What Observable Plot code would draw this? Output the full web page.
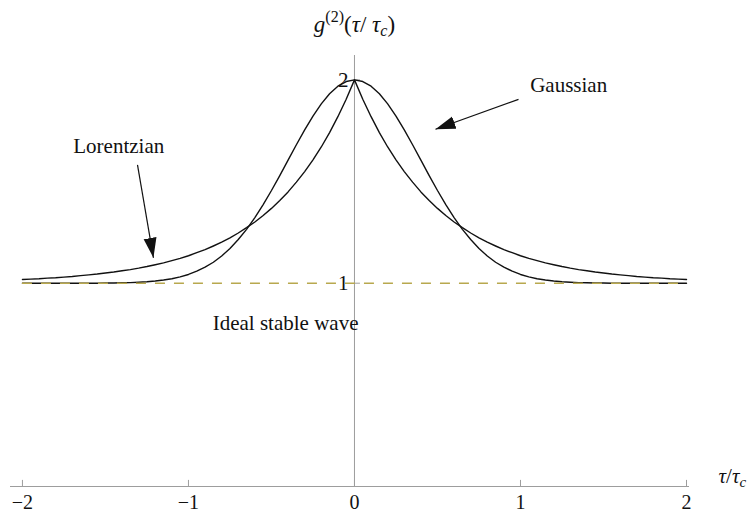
<!DOCTYPE html>
<html>
<head>
<meta charset="utf-8">
<script src="https://cdn.jsdelivr.net/npm/d3@7"></script>
<script src="https://cdn.jsdelivr.net/npm/@observablehq/plot@0.6"></script>
<style>
  body { margin: 0; background: #fff; }
  #chart { width: 756px; height: 514px; }
</style>
</head>
<body>
<div id="chart"></div>
<script>
// Delay in units of the coherence time, tau / tau_c
const tau = [
  -2.00, -1.95, -1.90, -1.85, -1.80, -1.75, -1.70, -1.65, -1.60, -1.55,
  -1.50, -1.45, -1.40, -1.35, -1.30, -1.25, -1.20, -1.15, -1.10, -1.05,
  -1.00, -0.95, -0.90, -0.85, -0.80, -0.75, -0.70, -0.65, -0.60, -0.55,
  -0.50, -0.45, -0.40, -0.35, -0.30, -0.25, -0.20, -0.15, -0.10, -0.05,
   0.00,
   0.05,  0.10,  0.15,  0.20,  0.25,  0.30,  0.35,  0.40,  0.45,  0.50,
   0.55,  0.60,  0.65,  0.70,  0.75,  0.80,  0.85,  0.90,  0.95,  1.00,
   1.05,  1.10,  1.15,  1.20,  1.25,  1.30,  1.35,  1.40,  1.45,  1.50,
   1.55,  1.60,  1.65,  1.70,  1.75,  1.80,  1.85,  1.90,  1.95,  2.00
];

// Second-order coherence g2 of Lorentzian (collision-broadened) light
const lorentzian = [
  1.018, 1.020, 1.022, 1.025, 1.027, 1.030, 1.033, 1.037, 1.041, 1.045,
  1.050, 1.055, 1.061, 1.067, 1.074, 1.082, 1.091, 1.100, 1.111, 1.122,
  1.135, 1.150, 1.165, 1.183, 1.202, 1.223, 1.247, 1.273, 1.301, 1.333,
  1.368, 1.407, 1.449, 1.497, 1.549, 1.607, 1.670, 1.741, 1.819, 1.905,
  2.000,
  1.905, 1.819, 1.741, 1.670, 1.607, 1.549, 1.497, 1.449, 1.407, 1.368,
  1.333, 1.301, 1.273, 1.247, 1.223, 1.202, 1.183, 1.165, 1.150, 1.135,
  1.122, 1.111, 1.100, 1.091, 1.082, 1.074, 1.067, 1.061, 1.055, 1.050,
  1.045, 1.041, 1.037, 1.033, 1.030, 1.027, 1.025, 1.022, 1.020, 1.018
];

// Second-order coherence g2 of Gaussian (Doppler-broadened) light
const gaussian = [
  1.000, 1.000, 1.000, 1.000, 1.000, 1.000, 1.000, 1.000, 1.000, 1.000,
  1.001, 1.001, 1.002, 1.003, 1.005, 1.007, 1.011, 1.016, 1.022, 1.031,
  1.043, 1.059, 1.079, 1.103, 1.134, 1.171, 1.215, 1.265, 1.323, 1.387,
  1.456, 1.529, 1.605, 1.681, 1.754, 1.822, 1.882, 1.932, 1.969, 1.992,
  2.000,
  1.992, 1.969, 1.932, 1.882, 1.822, 1.754, 1.681, 1.605, 1.529, 1.456,
  1.387, 1.323, 1.265, 1.215, 1.171, 1.134, 1.103, 1.079, 1.059, 1.043,
  1.031, 1.022, 1.016, 1.011, 1.007, 1.005, 1.003, 1.002, 1.001, 1.001,
  1.000, 1.000, 1.000, 1.000, 1.000, 1.000, 1.000, 1.000, 1.000, 1.000
];

// Ideal stable wave: g2 = 1 at every delay
const idealLevel = 1;

const xTicks = [-2, -1, 0, 1, 2];
const yTicks = [1, 2];

const curves = tau.map((t, i) => ({t, lorentzian: lorentzian[i], gaussian: gaussian[i]}));

// Callouts, anchored in data coordinates
const callouts = [
  {label: "Lorentzian", x: -1.42, y: 1.672},
  {label: "Gaussian", x: 1.29, y: 1.976},
  {label: "Ideal stable wave", x: -0.415, y: 0.805}
];
const pointers = [
  {x1: -1.307, y1: 1.582, x2: -1.211, y2: 1.125},
  {x1: 0.988, y1: 1.904, x2: 0.488, y2: 1.757}
];

const serif = "'Liberation Serif', 'Times New Roman', serif";
const axisGray = "#9d9d9d";
const ink = "#111";
const fmt = d3.format("d");

const plot = Plot.plot({
  width: 756,
  height: 514,
  marginLeft: 10,
  marginRight: 67,
  marginTop: 55,
  marginBottom: 28,
  x: {domain: [-2.072, 2.018], axis: null},
  y: {domain: [0, 2.12], axis: null},
  style: {fontFamily: serif, fontSize: "21px", background: "#fff", color: "#111"},
  marks: [
    // axes through the origin
    Plot.ruleY([0], {stroke: axisGray, strokeWidth: 1}),
    Plot.ruleX([0], {stroke: axisGray, strokeWidth: 1}),
    Plot.ruleX(xTicks, {x: d => d, y1: 0, y2: 0.03, stroke: axisGray}),
    Plot.ruleY(yTicks, {y: d => d, x1: 0, x2: 0.036, stroke: axisGray}),
    Plot.text(xTicks, {x: d => d, y: 0, dy: 16, fontSize: 20, text: d => fmt(d), fill: ink}),
    Plot.text(yTicks, {x: 0, y: d => d, dx: -6, textAnchor: "end", text: d => fmt(d), fill: ink}),

    // coherence curves
    Plot.line(curves, {x: "t", y: "gaussian", stroke: ink, strokeWidth: 1.4}),
    Plot.line(curves, {x: "t", y: "lorentzian", stroke: ink, strokeWidth: 1.4}),
    Plot.ruleY([idealLevel], {
      x1: tau[0], x2: tau[tau.length - 1],
      stroke: "#b8a84e", strokeWidth: 1.6, strokeDasharray: "10,9"
    }),

    // callouts
    Plot.text(callouts, {x: "x", y: "y", text: "label", fill: ink}),
    Plot.link(pointers, {x1: "x1", y1: "y1", x2: "x2", y2: "y2", stroke: ink, strokeWidth: 1.2, className: "pointer"}),

    // axis titles (rich text filled in below)
    Plot.text([0], {x: 0, frameAnchor: "top", dy: -40, fontSize: 23, text: () => "g", fill: ink, className: "y-title"}),
    Plot.text([0], {x: 2.018, y: 0, dx: 29, dy: -10, textAnchor: "start", text: () => "t", fill: ink, className: "x-title"})
  ]
});

document.getElementById("chart").append(plot);

const svg = d3.select(plot);

// Filled arrowheads for the callout pointers
const defs = svg.append("defs");
defs.append("marker")
  .attr("id", "pointer-head")
  .attr("markerUnits", "userSpaceOnUse")
  .attr("viewBox", "-20 -7 21 14")
  .attr("markerWidth", 21)
  .attr("markerHeight", 14)
  .attr("refX", 0)
  .attr("refY", 0)
  .attr("orient", "auto")
  .append("path")
  .attr("d", "M-20,-6.5L0,0L-20,6.5Z")
  .attr("fill", ink);
svg.selectAll(".pointer path").attr("marker-end", "url(#pointer-head)");

// g^(2)(τ/ τ_c) above the vertical axis
function richText(sel, parts) {
  sel.text(null);
  for (const p of parts) {
    const t = sel.append("tspan").text(p.s);
    if (p.italic) t.attr("font-style", "italic");
    if (p.size) t.attr("font-size", p.size);
    if (p.dy) t.attr("dy", p.dy);
  }
}
richText(svg.select(".y-title text"), [
  {s: "g", italic: true},
  {s: "(2)", size: 16, dy: -10},
  {s: "(", dy: 10},
  {s: "τ", italic: true},
  {s: "/ "},
  {s: "τ", italic: true},
  {s: "c", italic: true, size: 16, dy: 4},
  {s: ")", dy: -4}
]);
richText(svg.select(".x-title text"), [
  {s: "τ", italic: true},
  {s: "/"},
  {s: "τ", italic: true},
  {s: "c", italic: true, size: 15, dy: 4}
]);
</script>
</body>
</html>
